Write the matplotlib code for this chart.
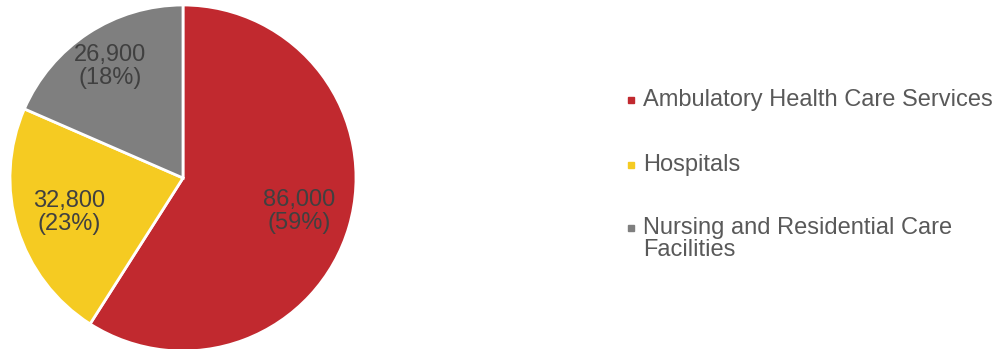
import numpy as np
import matplotlib.pyplot as plt

plt.rcParams['font.family'] = ['Liberation Sans', 'DejaVu Sans']

categories = ['Ambulatory Health Care Services', 'Hospitals',
              'Nursing and Residential Care\nFacilities']
employment = [86000, 32800, 26900]
colors = ['#C1292F', '#F5CB22', '#7F7F7F']
label_dist = [0.70, 0.69, 0.77]

total = sum(employment)

fig = plt.figure(figsize=(10.06, 3.49), dpi=100)
ax = fig.add_axes([10 / 1006, -2 / 349, 346 / 1006, 346 / 349])

wedges, _ = ax.pie(employment, colors=colors, startangle=90, counterclock=False,
                   radius=1, wedgeprops=dict(edgecolor='white', linewidth=2))

for w, v, d in zip(wedges, employment, label_dist):
    ang = np.deg2rad((w.theta1 + w.theta2) / 2)
    ax.text(d * np.cos(ang), d * np.sin(ang), f'{v:,}\n({v / total:.0%})',
            ha='center', va='center', fontsize=17, color='#404040', linespacing=1.05)

ax.set_xlim(-1.0, 1.0)
ax.set_ylim(-1.0, 1.0)
ax.set_aspect('equal')
ax.axis('off')

# legend drawn by hand so the marker sits on the first line of each entry
row_y = [100, 165, 228]
for c, lab, y in zip(colors, categories, row_y):
    fy = 1 - y / 349
    fig.add_artist(plt.Line2D([631 / 1006], [fy], marker='s', markersize=5,
                              markerfacecolor=c, markeredgecolor=c, linestyle='none'))
    fig.text(643 / 1006, fy, lab.split('\n')[0], ha='left', va='center',
             fontsize=17, color='#595959')
    if '\n' in lab:
        fig.text(643 / 1006, 1 - (y + 22) / 349, lab.split('\n')[1], ha='left', va='center',
                 fontsize=17, color='#595959')

fig.savefig('out.png', dpi=100)
